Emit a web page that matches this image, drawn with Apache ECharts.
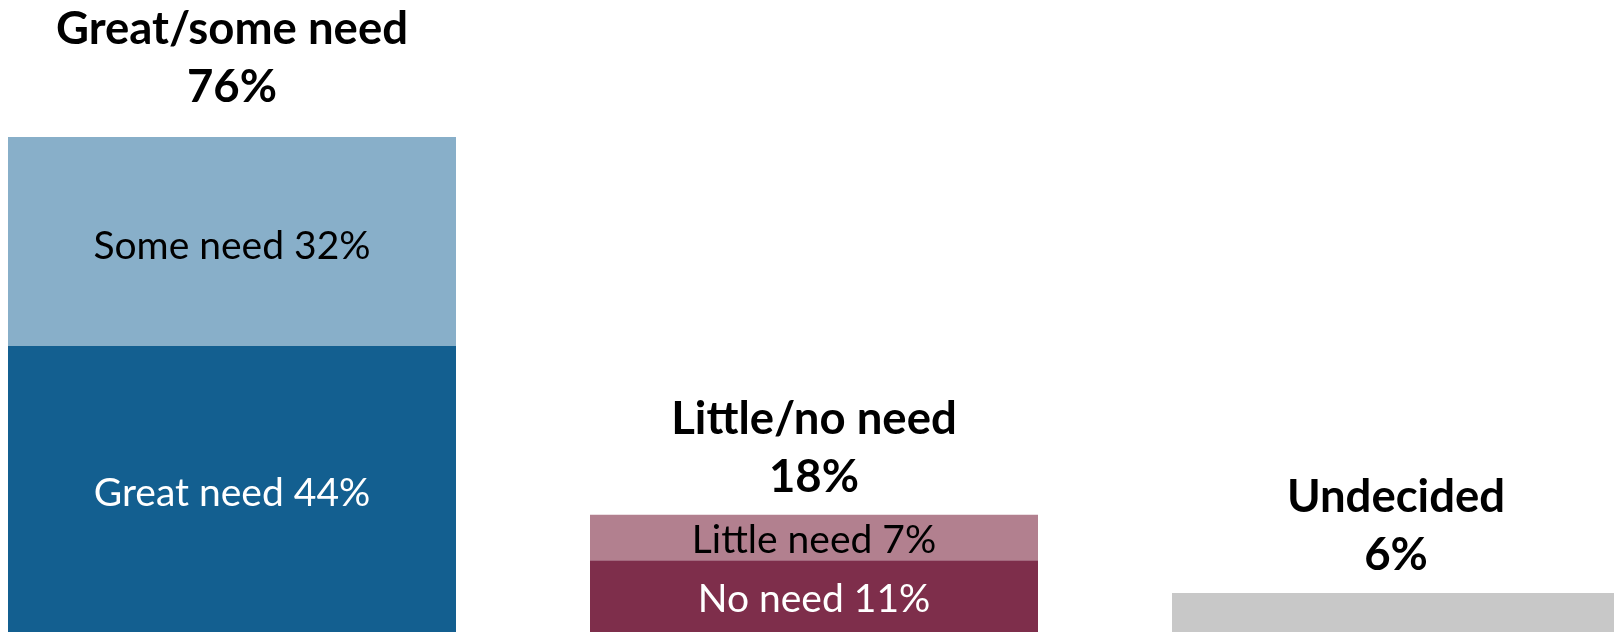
<!DOCTYPE html>
<html>
<head>
<meta charset="utf-8">
<script src="https://cdn.jsdelivr.net/npm/echarts@6/dist/echarts.min.js"></script>
<style>
html,body{margin:0;padding:0;background:#fff;overflow:hidden;width:1614px;height:632px;}
#chart{width:1746px;height:632px;position:absolute;left:-59px;top:0;}
</style>
</head>
<body>
<div id="chart"></div>
<script>
// Data
var categories = ['Great/some need', 'Little/no need', 'Undecided'];
var lowerNames = ['Great need', 'No need', 'Undecided'];
var lowerValues = [44, 11, 6];
var upperNames = ['Some need', 'Little need', ''];
var upperValues = [32, 7, null];
var totals = [76, 18, 6];

var lowerColors = ['#135F90', '#7E2E4B', '#C8C8C8'];
var upperColors = ['#88AFC9', '#B2808F', '#C8C8C8'];
var lowerTextColors = ['#ffffff', '#ffffff', '#000000'];
var upperTextColors = ['#000000', '#000000', '#000000'];
var headerDistances = [21, 8, 9];
var insideOffsets = [5, 3, 3];

var FONT = 'Lato';

var chart = echarts.init(document.getElementById('chart'));

var lowerData = lowerValues.map(function (v, i) {
  return {
    value: v,
    itemStyle: { color: lowerColors[i] },
    label: {
      show: i < 2,
      color: lowerTextColors[i],
      offset: [0, insideOffsets[i]],
      formatter: lowerNames[i] + ' ' + v + '%'
    }
  };
});
var upperData = upperValues.map(function (v, i) {
  return {
    value: v,
    itemStyle: { color: upperColors[i] },
    label: {
      show: v != null,
      color: upperTextColors[i],
      offset: [0, insideOffsets[i]],
      formatter: upperNames[i] + ' ' + v + '%'
    }
  };
});
var totalData = totals.map(function (v, i) {
  return {
    value: v,
    label: {
      distance: headerDistances[i],
      formatter: '{a|' + categories[i] + '}\n{a|' + v + '%}'
    }
  };
});

var option = {
  animation: false,
  backgroundColor: '#ffffff',
  grid: { left: 0, right: 0, top: 111, bottom: -3, containLabel: false },
  xAxis: {
    type: 'category',
    data: categories,
    show: false
  },
  yAxis: {
    type: 'value',
    min: 0,
    max: 80,
    show: false
  },
  series: [
    {
      name: 'total',
      type: 'bar',
      barWidth: 448,
      barGap: '-100%',
      z: 1,
      silent: true,
      itemStyle: { color: 'rgba(0,0,0,0)' },
      label: {
        show: true,
        position: 'top',
        rich: {
          a: {
            fontFamily: FONT,
            fontWeight: 'bold',
            fontSize: 45.5,
            lineHeight: 58,
            color: '#000000',
            align: 'center'
          }
        }
      },
      data: totalData
    },
    {
      name: 'lower',
      type: 'bar',
      stack: 'need',
      barWidth: 448,
      z: 2,
      label: {
        show: true,
        position: 'inside',
        fontFamily: FONT,
        fontSize: 39
      },
      data: lowerData
    },
    {
      name: 'upper',
      type: 'bar',
      stack: 'need',
      barWidth: 448,
      z: 2,
      label: {
        show: true,
        position: 'inside',
        fontFamily: FONT,
        fontSize: 39
      },
      data: upperData
    }
  ]
};
chart.setOption(option);
</script>
</body>
</html>
